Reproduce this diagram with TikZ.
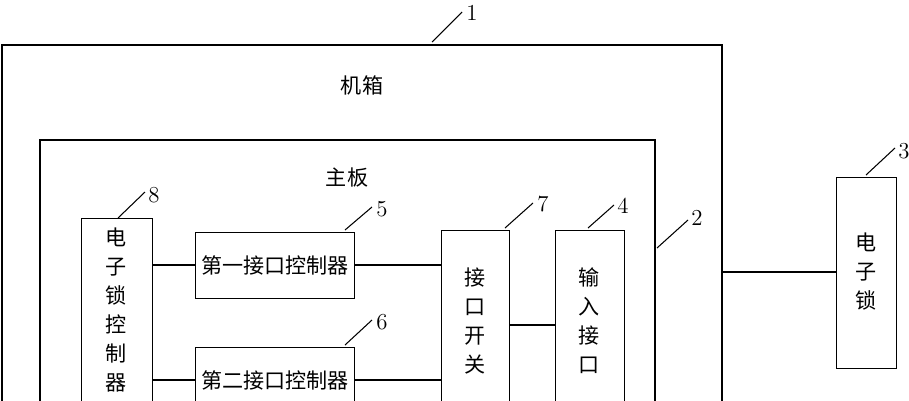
\documentclass[tikz,border=0pt]{standalone}
\usepackage{fontspec}
\newfontfamily\cjk{Noto Sans CJK SC}
\begin{document}
\begin{tikzpicture}[x=0.02cm,y=-0.02cm,
  bx/.style={draw,line width=0.6pt},
  ln/.style={line width=0.6pt},
  txt/.style={font=\cjk\fontsize{12}{12}\selectfont},
  vtxt/.style={font=\cjk\fontsize{12}{16.5}\selectfont,align=center},
  num/.style={font=\fontsize{13}{13}\selectfont}]
\clip (0,0) rectangle (909,400);
\draw[bx] (2,45) rectangle (722,430);
\node[txt] (jx) at (362,85) {机箱};
\draw[bx] (40,140) rectangle (655,430);
\node[txt] (zb) at (347,178) {主板};
\node[draw,line width=0.6pt,minimum width=1.2cm,minimum height=3.82cm,anchor=north west] (lock) at (836,177) {};
\node[vtxt] at (866,272) {电\\子\\锁};
\node[draw,line width=0.6pt,minimum width=1.42cm,minimum height=4.6cm,anchor=north west] (ctl) at (81,218) {};
\node[vtxt,anchor=north] at (116.5,222) {电\\子\\锁\\控\\制\\器};
\node[bx,txt,minimum width=2.88cm,minimum height=1.32cm,anchor=north west] (c1) at (195,232) {第一接口控制器};
\node[bx,txt,minimum width=2.88cm,minimum height=1.32cm,anchor=north west] (c2) at (195,347) {第二接口控制器};
\node[draw,line width=0.6pt,minimum width=1.36cm,minimum height=4cm,anchor=north west] (sw) at (441,230) {};
\node[vtxt,anchor=north] at (475,262) {接\\口\\开\\关};
\node[draw,line width=0.6pt,minimum width=1.38cm,minimum height=4cm,anchor=north west] (inp) at (555,230) {};
\node[vtxt,anchor=north] at (589.5,262) {输\\入\\接\\口};
\coordinate (b1) at (722,272);
\draw[ln] (b1) -- (lock.west |- b1);
\draw[ln] (152,265) -- (c1.west |- 0,265);
\draw[ln] (c1.east |- 0,265) -- (441,265);
\draw[ln] (152,380) -- (c2.west |- 0,380);
\draw[ln] (c2.east |- 0,380) -- (441,380);
\draw[ln] (509,325) -- (555,325);
\draw[ln] (432,42) -- (462,12); \node[num] at (472,13) {1};
\draw[ln] (657,248) -- (688,220); \node[num] at (697,218) {2};
\draw[ln] (866,175) -- (895,148); \node[num] at (904,151) {3};
\draw[ln] (588,228) -- (614,205); \node[num] at (623,206) {4};
\draw[ln] (345,230) -- (372,207); \node[num] at (382,209) {5};
\draw[ln] (345,345) -- (372,320); \node[num] at (382,322) {6};
\draw[ln] (505,228) -- (533,203); \node[num] at (543,204) {7};
\draw[ln] (118,218) -- (145,192); \node[num] at (154,195) {8};
\end{tikzpicture}
\end{document}
